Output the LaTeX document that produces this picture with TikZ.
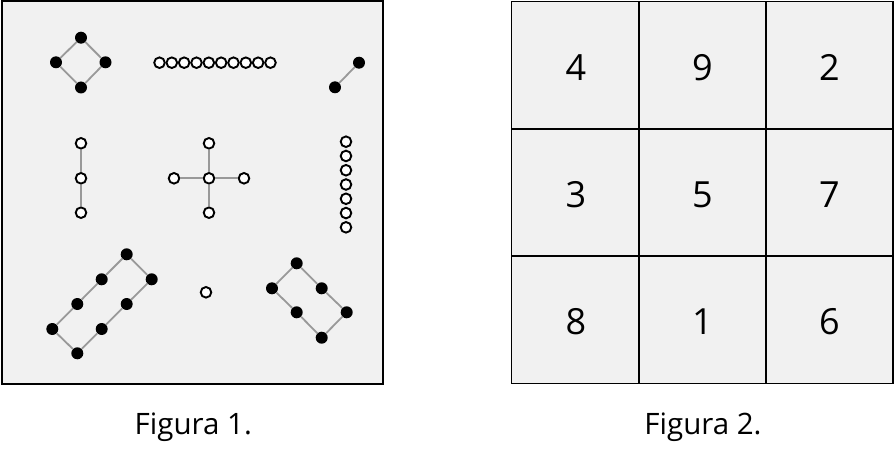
\documentclass[tikz,border=0pt]{standalone}
\usepackage{fontspec}
\setmainfont{Open Sans}
\definecolor{panel}{HTML}{F1F1F1}
\definecolor{edgegray}{HTML}{999999}
\tikzset{
  fdot/.style={circle,fill=black,draw=none,minimum size=12pt,inner sep=0pt},
  odot/.style={circle,fill=white,draw=black,line width=1.9pt,minimum size=10.6pt,inner sep=0pt},
  link/.style={draw=edgegray,line width=1.8pt},
  frame/.style={draw=black,line width=2pt,fill=panel},
  gridline/.style={draw=black,line width=1.8pt},
  digit/.style={anchor=base,font=\fontsize{36}{40}\selectfont,inner sep=0pt},
  caption/.style={anchor=base,font=\fontsize{29.5}{33}\selectfont,inner sep=0pt}
}
\begin{document}
\begin{tikzpicture}[x=1pt,y=-1pt]
\useasboundingbox (0,0) rectangle (895,452);
% Figure 1 frame
\path[frame] (1.5,1.5) rectangle (383,384);
% diamond
\node[fdot] (d1) at (81,37.7) {};
\node[fdot] (d2) at (56,62.3) {};
\node[fdot] (d3) at (105.5,62.3) {};
\node[fdot] (d4) at (81,87.5) {};
\draw[link] (d1) -- (d2) -- (d4) -- (d3) -- (d1);
% row of open circles
\foreach \i in {0,...,9} \node[odot] (r\i) at ({159.5+12.33*\i},62.7) {};
% segment
\node[fdot] (s1) at (359,62.7) {};
\node[fdot] (s2) at (335,87.3) {};
\draw[link] (s1) -- (s2);
% vertical line of three
\node[odot] (v1) at (81,143.3) {};
\node[odot] (v2) at (81,178.3) {};
\node[odot] (v3) at (81,212.7) {};
\draw[link] (v1) -- (v2) -- (v3);
% cross
\node[odot] (x0) at (209,178.3) {};
\node[odot] (xt) at (209,143.3) {};
\node[odot] (xb) at (209,212.7) {};
\node[odot] (xl) at (174,178.3) {};
\node[odot] (xr) at (244,178.3) {};
\draw[link] (x0) -- (xt);
\draw[link] (x0) -- (xb);
\draw[link] (x0) -- (xl);
\draw[link] (x0) -- (xr);
% column of open circles
\foreach \i in {0,...,6} \node[odot] (c\i) at (346,{141.7+14.27*\i}) {};
% left rectangle
\node[fdot] (a1) at (126.7,254.3) {};
\node[fdot] (a2) at (101.7,279.3) {};
\node[fdot] (a3) at (77.3,304) {};
\node[fdot] (a4) at (52.3,329) {};
\node[fdot] (a5) at (77.3,353.3) {};
\node[fdot] (a6) at (101.7,329) {};
\node[fdot] (a7) at (126.7,304) {};
\node[fdot] (a8) at (151.7,279.3) {};
\draw[link] (a1) -- (a2) -- (a3) -- (a4) -- (a5) -- (a6) -- (a7) -- (a8) -- (a1);
% single open circle
\node[odot] (m) at (206,292.3) {};
% right rectangle
\node[fdot] (b1) at (296.7,263.3) {};
\node[fdot] (b2) at (272,288.3) {};
\node[fdot] (b3) at (296.7,312.3) {};
\node[fdot] (b4) at (321.7,337.7) {};
\node[fdot] (b5) at (346.7,312.3) {};
\node[fdot] (b6) at (321.7,288.3) {};
\draw[link] (b1) -- (b2) -- (b3) -- (b4) -- (b5) -- (b6) -- (b1);
% Figure 2 grid
\path[fill=panel] (511.5,1.5) rectangle (893,383.5);
\foreach \xx in {511.5,638.7,766,893} \draw[gridline] (\xx,1.5) -- (\xx,383.5);
\foreach \yy in {1.5,128.8,256.2,383.5} \draw[gridline] (511.5,\yy) -- (893,\yy);
\node[digit] (n4) at (575.8,80.5) {4};
\node[digit] (n9) at (702.4,80.5) {9};
\node[digit] (n2) at (829.5,80.5) {2};
\node[digit] (n3) at (575.8,207.3) {3};
\node[digit] (n5) at (702.4,207.3) {5};
\node[digit] (n7) at (829.5,207.3) {7};
\node[digit] (n8) at (575.8,334.7) {8};
\node[digit] (n1) at (702.4,334.7) {1};
\node[digit] (n6) at (829.5,334.7) {6};
% captions
\node[caption] (cap1) at (193.3,434.3) {Figura 1.};
\node[caption] (cap2) at (703,434.3) {Figura 2.};
\end{tikzpicture}
\end{document}
